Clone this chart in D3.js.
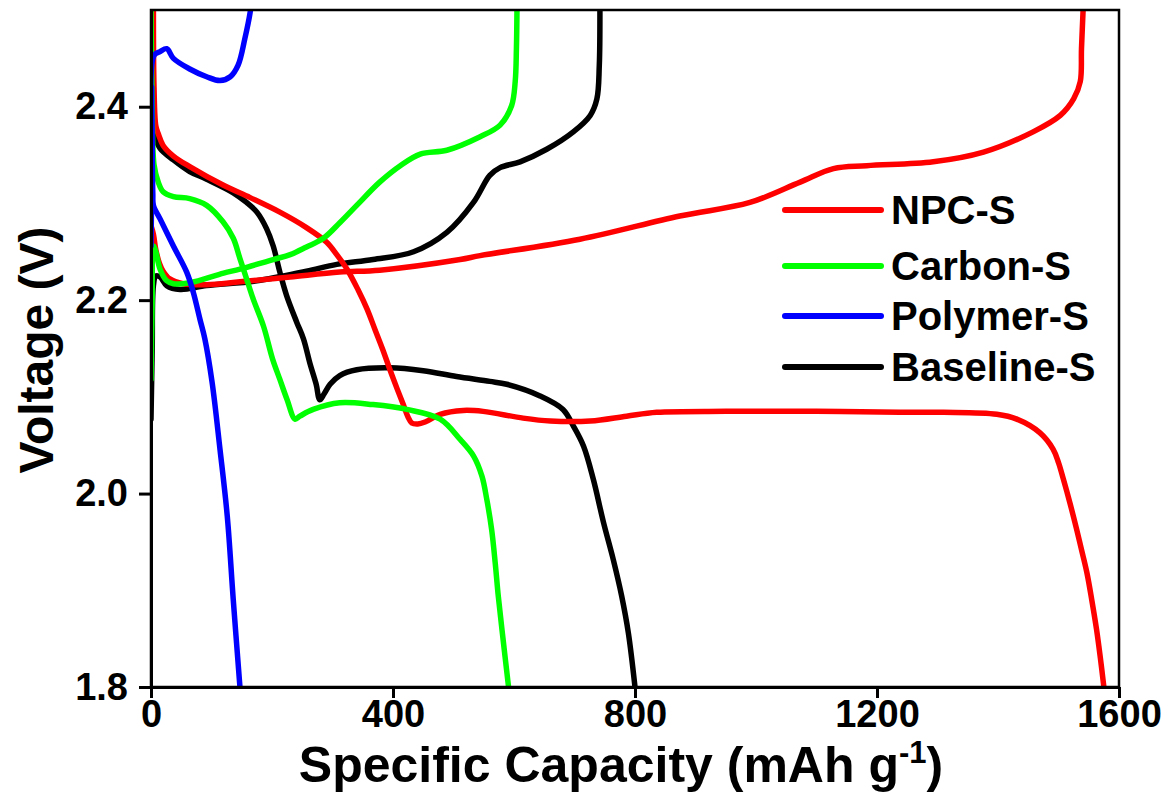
<!DOCTYPE html>
<html>
<head>
<meta charset="utf-8">
<script src="https://cdn.jsdelivr.net/npm/d3@7"></script>
<style>
  html, body { margin: 0; padding: 0; background: #fff; }
  svg text { font-family: "Liberation Sans", Arial, sans-serif; font-weight: bold; fill: #000; }
</style>
</head>
<body>
<div id="chart"></div>
<script>
// capacity (mAh/g), voltage (V)
const npcDischarge = [[4,2.50],[5,2.42],[8,2.38],[12,2.372],[20,2.360],[37,2.349],[64,2.338],[119,2.319],[164,2.306],[213,2.291],[257,2.275],[290,2.260],[307,2.247],[324,2.232],[342,2.211],[357,2.191],[370,2.170],[383,2.149],[395,2.128],[407,2.108],[417,2.092],[425,2.079],[431,2.073],[441,2.072],[453,2.074],[478,2.082],[516,2.086],[549,2.085],[615,2.078],[660,2.075],[726,2.075],[786,2.080],[836,2.084],[950,2.085],[1100,2.085],[1238,2.084],[1310,2.084],[1398,2.082],[1431,2.077],[1469,2.063],[1491,2.046],[1500,2.032],[1508,2.015],[1519,1.990],[1530,1.963],[1538,1.942],[1547,1.918],[1555,1.890],[1563,1.859],[1569,1.831],[1575,1.800]];
const npcCharge = [[0,2.277],[4,2.268],[8,2.252],[14,2.238],[20,2.230],[31,2.222],[53,2.217],[92,2.216],[147,2.219],[230,2.224],[312,2.229],[378,2.231],[511,2.242],[544,2.246],[709,2.263],[874,2.287],[990,2.301],[1073,2.322],[1128,2.336],[1183,2.339],[1293,2.343],[1376,2.353],[1458,2.374],[1503,2.391],[1525,2.408],[1536,2.426],[1538,2.460],[1541,2.505]];

const carbonDischarge = [[0,2.50],[2,2.40],[5,2.34],[12,2.322],[20,2.312],[37,2.307],[64,2.305],[92,2.298],[119,2.281],[136,2.264],[147,2.243],[158,2.222],[169,2.201],[186,2.173],[201,2.139],[213,2.118],[225,2.097],[238,2.077],[246,2.080],[268,2.087],[312,2.094],[367,2.092],[423,2.087],[478,2.077],[511,2.056],[533,2.039],[547,2.018],[555,1.994],[563,1.963],[569,1.928],[574,1.894],[582,1.849],[591,1.800]];
const carbonCharge = [[0,2.118],[2,2.20],[4,2.256],[8,2.250],[15,2.232],[26,2.220],[37,2.217],[64,2.218],[120,2.228],[147,2.232],[202,2.242],[230,2.247],[257,2.255],[285,2.264],[312,2.280],[340,2.298],[378,2.322],[412,2.339],[445,2.351],[489,2.355],[544,2.369],[577,2.381],[596,2.401],[602,2.426],[604,2.460],[605,2.505]];

const polymerDischarge = [[1,2.42],[3,2.31],[4,2.298],[15,2.284],[37,2.256],[59,2.229],[70,2.208],[81,2.180],[89,2.160],[101,2.115],[114,2.046],[126,1.977],[136,1.890],[147,1.800]];
const polymerCharge = [[0,2.256],[2,2.35],[5,2.453],[15,2.457],[26,2.460],[37,2.450],[64,2.439],[92,2.431],[114,2.427],[131,2.431],[144,2.443],[155,2.470],[164,2.498],[166,2.51]];

const baselineDischarge = [[3,2.40],[6,2.37],[15,2.357],[37,2.345],[64,2.333],[92,2.325],[136,2.311],[158,2.301],[175,2.291],[191,2.274],[202,2.256],[213,2.229],[224,2.205],[241,2.177],[252,2.160],[263,2.134],[273,2.113],[279,2.097],[286,2.103],[296,2.113],[312,2.122],[340,2.128],[395,2.130],[450,2.127],[505,2.121],[560,2.116],[588,2.113],[643,2.101],[681,2.087],[698,2.070],[715,2.049],[731,2.015],[748,1.970],[764,1.932],[778,1.894],[789,1.856],[800,1.800]];
const baselineCharge = [[0,2.077],[2,2.15],[4,2.215],[8,2.225],[15,2.224],[26,2.215],[48,2.211],[92,2.215],[175,2.220],[257,2.230],[307,2.237],[367,2.242],[434,2.250],[489,2.270],[533,2.301],[560,2.329],[577,2.337],[610,2.343],[654,2.356],[698,2.374],[726,2.391],[737,2.408],[741,2.443],[742,2.505]];

const seriesNames = ["NPC-S", "Carbon-S", "Polymer-S", "Baseline-S"];
const seriesColors = ["#ff0000", "#00ff00", "#0000ff", "#000000"];
const xTicks = [0, 400, 800, 1200, 1600];
const yTicks = [1.8, 2.0, 2.2, 2.4];

// drawing order: black first, blue last
const series = [
  { name: "Baseline-S", color: "#000000", curves: [baselineDischarge, baselineCharge] },
  { name: "NPC-S", color: "#ff0000", curves: [npcDischarge, npcCharge] },
  { name: "Carbon-S", color: "#00ff00", curves: [carbonDischarge, carbonCharge] },
  { name: "Polymer-S", color: "#0000ff", curves: [polymerDischarge, polymerCharge] }
];

const width = 1165, height = 802;
const margin = { top: 10, right: 46, bottom: 115, left: 151 };
const innerW = width - margin.left - margin.right;
const innerH = height - margin.top - margin.bottom;

const svg = d3.select("#chart").append("svg")
  .attr("width", width)
  .attr("height", height);

const g = svg.append("g").attr("transform", `translate(${margin.left},${margin.top})`);

const x = d3.scaleLinear().domain([0, 1600]).range([0, innerW]);
const y = d3.scaleLinear().domain([1.8, 2.5]).range([innerH, 0]);

svg.append("defs").append("clipPath").attr("id", "plot-clip")
  .append("rect").attr("width", innerW).attr("height", innerH);

const line = d3.line()
  .x(d => x(d[0]))
  .y(d => y(d[1]))
  .curve(d3.curveCatmullRom.alpha(0.5));

const plot = g.append("g").attr("clip-path", "url(#plot-clip)");
series.forEach(s => {
  s.curves.forEach(c => {
    plot.append("path")
      .datum(c)
      .attr("d", line)
      .attr("fill", "none")
      .attr("stroke", s.color)
      .attr("stroke-width", 5.5)
      .attr("stroke-linejoin", "round")
      .attr("stroke-linecap", "round");
  });
});

// frame round the plot
g.append("rect")
  .attr("width", innerW)
  .attr("height", innerH)
  .attr("fill", "none")
  .attr("stroke", "#000")
  .attr("stroke-width", 2.5);

// axes
const xAxis = g.append("g")
  .attr("transform", `translate(0,${innerH})`)
  .call(d3.axisBottom(x).tickValues(xTicks).tickSize(11).tickSizeOuter(0).tickPadding(2).tickFormat(d3.format("d")));
const yAxis = g.append("g")
  .call(d3.axisLeft(y).tickValues(yTicks).tickSize(12).tickSizeOuter(0).tickPadding(11).tickFormat(d3.format(".1f")));

[xAxis, yAxis].forEach(a => {
  a.selectAll("path, line").attr("stroke", "#000").attr("stroke-width", 3);
  a.selectAll("text").attr("font-size", 38).attr("fill", "#000");
});

// axis titles
const xTitle = svg.append("text")
  .attr("x", margin.left + innerW / 2 - 14)
  .attr("y", 782)
  .attr("text-anchor", "middle")
  .attr("font-size", 50);
xTitle.append("tspan").text("Specific Capacity (mAh g");
xTitle.append("tspan").attr("dy", -19).attr("font-size", 31).text("-1");
xTitle.append("tspan").attr("dy", 19).text(")");

svg.append("text")
  .attr("transform", "translate(53,350) rotate(-90)")
  .attr("text-anchor", "middle")
  .attr("font-size", 48)
  .text("Voltage (V)");

// legend
const legendY = [210, 266, 316, 367];
const legend = svg.append("g");
seriesNames.forEach((name, i) => {
  legend.append("line")
    .attr("x1", 785).attr("x2", 881)
    .attr("y1", legendY[i]).attr("y2", legendY[i])
    .attr("stroke", seriesColors[i])
    .attr("stroke-width", 6)
    .attr("stroke-linecap", "round");
  legend.append("text")
    .attr("x", 891)
    .attr("y", legendY[i] + 14)
    .attr("font-size", 40)
    .text(name);
});
</script>
</body>
</html>
